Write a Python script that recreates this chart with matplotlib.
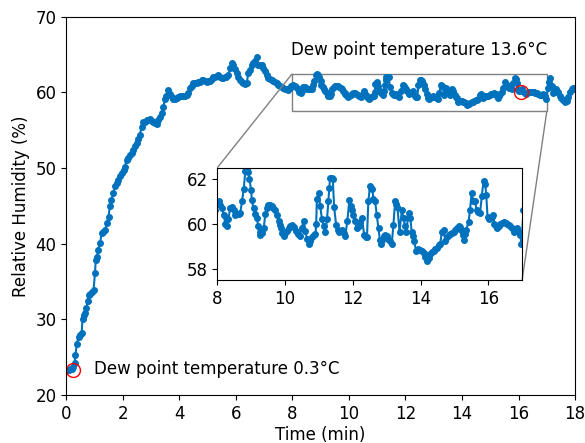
import matplotlib
matplotlib.use('Agg')
import matplotlib.pyplot as plt
from mpl_toolkits.axes_grid1.inset_locator import mark_inset
import numpy as np

# RH readings (min, %)
time_min = [
    0.05, 0.10, 0.15, 0.20, 0.25, 0.30, 0.33, 0.38, 0.44, 0.50, 0.55, 0.58, 0.64, 0.68, 0.72, 0.76, 0.80, 0.86, 0.92, 0.97,
    1.02, 1.05, 1.09, 1.14, 1.20, 1.26, 1.32, 1.38, 1.44, 1.50, 1.55, 1.60, 1.67, 1.73, 1.79, 1.85, 1.91, 1.97,
    2.03, 2.08, 2.14, 2.20, 2.26, 2.32, 2.38, 2.44, 2.50, 2.56, 2.61, 2.67, 2.73, 2.79, 2.85, 2.91, 2.97,
    3.03, 3.09, 3.15, 3.20, 3.26, 3.32, 3.38, 3.44, 3.50, 3.55, 3.61, 3.67, 3.73, 3.79, 3.85, 3.91, 3.97,
    4.03, 4.09, 4.15, 4.21, 4.26, 4.32, 4.38, 4.44, 4.50, 4.56, 4.62, 4.68, 4.73, 4.79, 4.85, 4.91, 4.97,
    5.03, 5.09, 5.15, 5.20, 5.27, 5.33, 5.38, 5.44, 5.50, 5.56, 5.62, 5.67, 5.74, 5.80, 5.85, 5.91, 5.97,
    6.03, 6.09, 6.15, 6.21, 6.27, 6.33, 6.39, 6.44, 6.50, 6.56, 6.62, 6.68, 6.74, 6.80, 6.86, 6.92, 6.97,
    7.03, 7.09, 7.15, 7.21, 7.27, 7.33, 7.39, 7.45, 7.50, 7.56, 7.62, 7.68, 7.74, 7.80, 7.86, 7.92, 7.97,
    8.04, 8.09, 8.14, 8.19, 8.24, 8.29, 8.33, 8.38, 8.44, 8.48, 8.53, 8.58, 8.63, 8.68, 8.73, 8.78, 8.83, 8.88, 8.92, 8.95,
    9.00, 9.02, 9.07, 9.12, 9.17, 9.21, 9.25, 9.27, 9.32, 9.37, 9.42, 9.46, 9.51, 9.56, 9.61, 9.66, 9.71, 9.76, 9.81, 9.85, 9.88, 9.92, 9.96,
    10.01, 10.06, 10.11, 10.16, 10.21, 10.26, 10.31, 10.37, 10.43, 10.49, 10.55, 10.60, 10.65, 10.70, 10.75, 10.80, 10.85, 10.90, 10.92, 10.94, 10.99,
    11.04, 11.09, 11.14, 11.19, 11.24, 11.28, 11.31, 11.33, 11.38, 11.41, 11.45, 11.51, 11.55, 11.58, 11.63, 11.68, 11.73, 11.78, 11.84, 11.90, 11.94, 11.97,
    12.02, 12.07, 12.12, 12.17, 12.22, 12.27, 12.34, 12.39, 12.42, 12.46, 12.51, 12.55, 12.58, 12.61, 12.66, 12.71, 12.76, 12.80, 12.83, 12.87, 12.91, 12.96,
    13.00, 13.05, 13.10, 13.15, 13.20, 13.25, 13.28, 13.32, 13.38, 13.45, 13.50, 13.54, 13.58, 13.65, 13.70, 13.74, 13.78, 13.81, 13.87, 13.94, 13.99,
    14.04, 14.09, 14.14, 14.19, 14.24, 14.29, 14.34, 14.39, 14.44, 14.49, 14.54, 14.58, 14.63, 14.68, 14.73, 14.78, 14.83, 14.88, 14.93, 14.98,
    15.03, 15.08, 15.13, 15.17, 15.20, 15.24, 15.27, 15.31, 15.35, 15.42, 15.46, 15.51, 15.56, 15.61, 15.66, 15.71, 15.76, 15.81, 15.86, 15.91, 15.94, 15.98,
    16.02, 16.06, 16.10, 16.14, 16.18, 16.22, 16.26, 16.31, 16.36, 16.41, 16.46, 16.51, 16.55, 16.60, 16.65, 16.70, 16.75, 16.80, 16.85, 16.90, 16.95, 16.98,
    17.04, 17.08, 17.12, 17.17, 17.22, 17.28, 17.34, 17.40, 17.46, 17.52, 17.58, 17.64, 17.70, 17.76, 17.82, 17.88, 17.94, 18.00,
]
rel_humidity = [
    23.3, 23.3, 23.4, 23.5, 23.7, 24.2, 25.3, 26.8, 27.7, 28.0, 28.2, 30.1, 30.6, 30.9, 31.5, 32.4, 33.2, 33.4, 33.6, 33.9,
    36.1, 37.9, 38.3, 39.2, 40.1, 41.4, 41.6, 41.8, 42.7, 43.6, 45.0, 45.8, 46.7, 47.6, 48.0, 48.4, 48.9, 49.3,
    49.8, 50.2, 51.1, 51.4, 51.7, 52.0, 52.4, 52.9, 53.3, 53.9, 54.4, 55.5, 56.1, 56.1, 56.3, 56.4, 56.5,
    56.2, 56.1, 56.0, 55.9, 56.3, 56.8, 57.3, 58.1, 59.2, 59.6, 60.3, 59.8, 59.4, 59.2, 59.2, 59.3, 59.4,
    59.5, 59.5, 59.6, 59.6, 59.7, 59.9, 60.6, 60.8, 61.2, 61.2, 61.3, 61.4, 61.4, 61.6, 61.7, 61.5, 61.4,
    61.5, 61.5, 61.8, 62.1, 62.1, 62.2, 62.3, 62.0, 61.9, 61.9, 62.0, 62.1, 62.3, 63.2, 63.9, 63.6, 63.1,
    62.6, 62.1, 61.7, 61.4, 61.2, 61.1, 61.2, 62.6, 63.0, 63.6, 63.9, 64.1, 64.7, 63.7, 63.6, 63.6, 63.2,
    62.8, 62.3, 61.9, 61.8, 61.7, 61.5, 61.4, 61.2, 61.0, 60.9, 60.7, 60.6, 60.5, 60.4, 60.3, 60.6, 60.9,
    61.0, 60.85, 60.7, 60.4, 60.0, 59.9, 60.2, 60.7, 60.75, 60.6, 60.4, 60.45, 60.45, 60.5, 61.0, 61.55, 62.35, 62.45, 62.3, 62.0,
    61.5, 61.05, 60.7, 60.45, 60.25, 59.9, 59.65, 59.5, 59.6, 59.8, 60.45, 60.7, 60.85, 60.85, 60.8, 60.7, 60.6, 60.4, 60.15, 59.95, 59.8, 59.6, 59.45,
    59.6, 59.7, 59.8, 59.9, 59.95, 59.85, 59.7, 59.55, 59.45, 59.8, 60.15, 59.7, 59.35, 59.1, 59.25, 59.4, 59.5, 59.55, 60.0, 61.1, 61.4,
    60.8, 60.2, 59.9, 59.65, 60.2, 61.0, 61.6, 62.05, 62.05, 62.0, 60.75, 59.95, 59.75, 59.65, 59.7, 59.75, 59.6, 59.45, 60.15, 61.05, 60.8, 60.6,
    60.4, 60.15, 59.8, 59.9, 60.1, 60.25, 59.5, 59.4, 59.4, 61.0, 61.7, 61.6, 61.55, 61.1, 61.0, 60.4, 59.8, 59.3, 59.1, 59.3, 59.45, 59.5,
    59.45, 59.35, 59.25, 59.1, 59.95, 61.0, 60.9, 60.75, 59.65, 60.6, 60.25, 59.9, 59.65, 60.5, 60.25, 59.65, 59.45, 59.25, 58.8, 58.9, 58.85,
    58.8, 58.7, 58.55, 58.35, 58.5, 58.65, 58.75, 58.8, 58.9, 58.95, 59.05, 59.1, 59.65, 59.75, 59.25, 59.4, 59.5, 59.55, 59.6, 59.65,
    59.75, 59.8, 59.9, 59.85, 59.75, 59.5, 59.3, 59.55, 59.75, 60.1, 60.6, 61.4, 61.0, 61.0, 60.6, 60.55, 60.5, 61.25, 61.9, 61.8, 61.3, 60.3,
    60.2, 60.25, 60.3, 60.4, 60.0, 59.9, 59.8, 59.9, 60.0, 60.05, 60.1, 60.05, 60.0, 59.95, 59.9, 59.8, 59.65, 59.7, 59.8, 59.65, 59.5, 59.1,
    60.6, 61.4, 61.9, 60.8, 59.9, 60.1, 60.4, 60.0, 59.6, 59.3, 59.0, 58.8, 58.9, 59.4, 60.0, 60.5, 60.6, 60.4,
]

# dew point markers
dew_t = [0.25, 16.1]
dew_rh = [23.3, 60.0]
dew_labels = ['Dew point temperature 0.3°C', 'Dew point temperature 13.6°C']
dew_label_pos = [(1.0, 23.5), (7.95, 65.6)]

blue = '#0072BD'

fig = plt.figure(figsize=(5.85, 4.43), dpi=100)
ax = fig.add_axes([0.113, 0.108, 0.870, 0.854])

ax.plot(time_min, rel_humidity, '-o', color=blue, markersize=4, linewidth=1.5)
ax.plot(dew_t, dew_rh, 'o', markersize=10, mfc='none', mec='red', mew=1.0)
for lab, (tx, ty) in zip(dew_labels, dew_label_pos):
    ax.text(tx, ty, lab, fontsize=12, va='center', ha='left')

ax.set_xlim(0, 18)
ax.set_ylim(20, 70)
ax.set_xticks(np.arange(0, 19, 2))
ax.set_yticks(np.arange(20, 71, 10))
ax.tick_params(labelsize=12)
ax.set_xlabel('Time (min)', fontsize=12, labelpad=2)
ax.set_ylabel('Relative Humidity (%)', fontsize=12)

# zoomed inset
axins = ax.inset_axes([0.297, 0.304, 0.599, 0.297])
axins.plot(time_min, rel_humidity, '-o', color=blue, markersize=4, linewidth=1.5)
axins.set_xlim(8, 17)
axins.set_ylim(57.5, 62.5)
axins.set_xticks([8, 10, 12, 14, 16])
axins.set_yticks([58, 60, 62])
axins.tick_params(labelsize=12)
mark_inset(ax, axins, loc1=2, loc2=4, fc='none', ec='0.5', lw=1)

fig.savefig('out.png', dpi=100)
